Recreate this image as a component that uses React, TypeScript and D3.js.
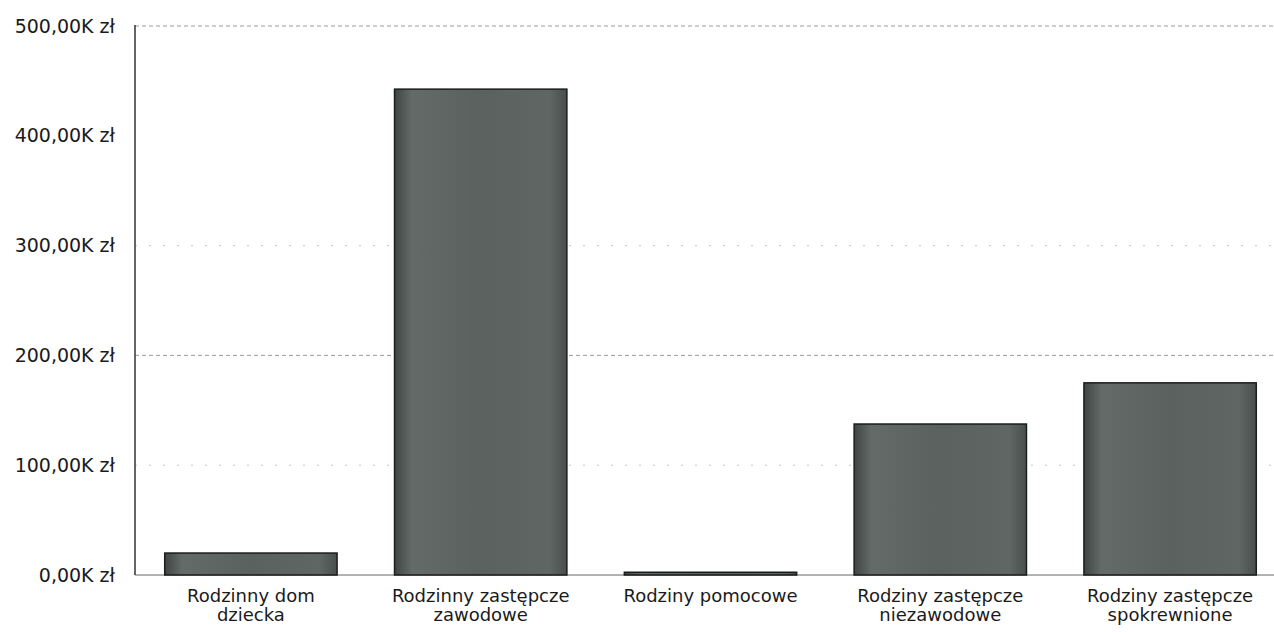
import React from "react";
import * as d3 from "d3";

const categories = [
  ["Rodzinny dom", "dziecka"],
  ["Rodzinny zastępcze", "zawodowe"],
  ["Rodziny pomocowe"],
  ["Rodziny zastępcze", "niezawodowe"],
  ["Rodziny zastępcze", "spokrewnione"],
];
const values = [20, 442.5, 2.5, 137.5, 175];
const yTicks = [0, 100, 200, 300, 400, 500];
const gridTicks = [100, 200, 300, 500];

export default function App() {
  const W = 1274, H = 632;
  const x = d3.scaleBand<number>().domain(d3.range(categories.length)).range([136, 1285]).paddingInner(0.25).paddingOuter(0.125);
  const y = d3.scaleLinear().domain([0, 500]).range([575, 26]);
  const fmt = (v: number) => `${v.toFixed(2).replace(".", ",")}K zł`;
  return (
    <svg width={W} height={H} style={{ position: "absolute", left: 0, top: 0, background: "#fff" }} fontFamily="DejaVu Sans, Verdana, sans-serif">
      <defs>
        <linearGradient id="barg" x1="0" x2="1" y1="0" y2="0">
          <stop offset="0" stopColor="#3f4543" />
          <stop offset="0.1" stopColor="#636a67" />
          <stop offset="0.5" stopColor="#5a615e" />
          <stop offset="0.9" stopColor="#5f6663" />
          <stop offset="1" stopColor="#474e4b" />
        </linearGradient>
      </defs>
      {gridTicks.map((t) => (
        <line key={t} x1={135} x2={W} y1={y(t)} y2={y(t)} stroke={t === 500 || t === 200 ? "#9a9a9a" : "#c4c4c4"} strokeWidth={1} strokeDasharray={t === 500 || t === 200 ? "4,3" : "2,12"} />
      ))}
      <line x1={135} x2={W} y1={y(0)} y2={y(0)} stroke="#666" strokeWidth={1} />
      <line x1={135} x2={135} y1={y(500) - 1} y2={y(0)} stroke="#333" strokeWidth={1.5} />
      {values.map((v, i) => (
        <rect key={i} x={x(i)!} y={y(v)} width={x.bandwidth()} height={y(0) - y(v)} fill="url(#barg)" stroke="#1a1d1c" strokeWidth={1.5} />
      ))}
      {yTicks.map((t) => (
        <text key={t} x={115} y={y(t)} dy="0.35em" textAnchor="end" fontSize={19} fill="#1a1a1a">{fmt(t)}</text>
      ))}
      {categories.map((lines, i) => (
        <text key={i} x={x(i)! + x.bandwidth() / 2} y={602} textAnchor="middle" fontSize={18} fill="#1a1a1a">
          {lines.map((l, j) => (
            <tspan key={j} x={x(i)! + x.bandwidth() / 2} dy={j === 0 ? 0 : 19}>{l}</tspan>
          ))}
        </text>
      ))}
    </svg>
  );
}
